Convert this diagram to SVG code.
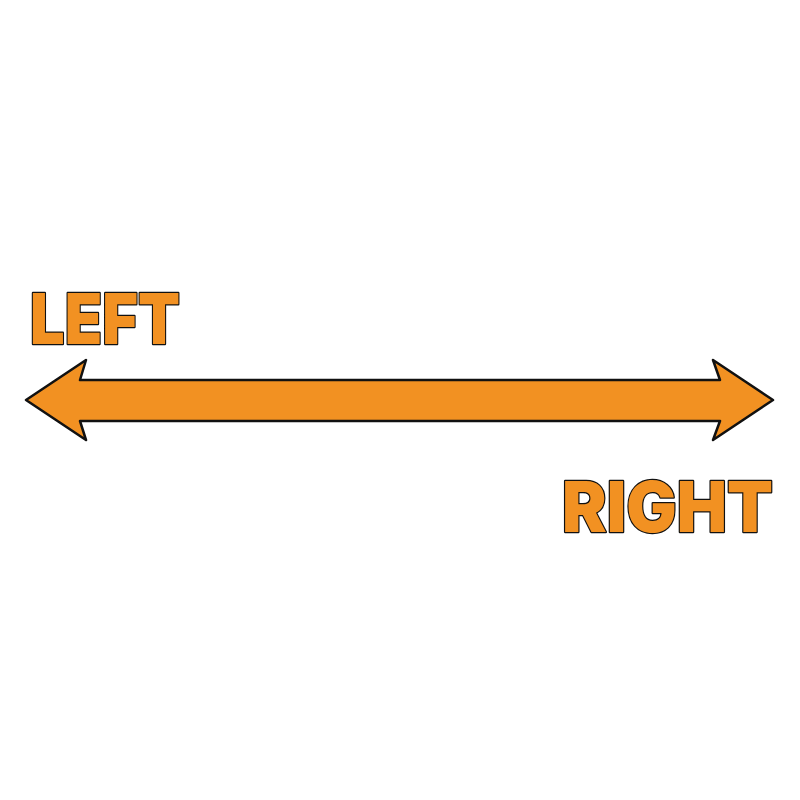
<svg xmlns="http://www.w3.org/2000/svg" width="800" height="800" viewBox="0 0 800 800">
<style>
.lbl{font-family:Inter,"Liberation Sans",sans-serif;font-weight:900;font-size:70px;fill:#F29122;stroke:#111;stroke-width:2.5;stroke-linejoin:round;paint-order:stroke}
</style>
<rect width="800" height="800" fill="#fff"/>
<g id="connectors">
<path id="arrow" d="M26,400 L86,360 L80,380 L720,380 L713,360 L773,400 L713,440 L720,421 L80,421 L86,440 Z" fill="#F29122" stroke="#111" stroke-width="2.5" stroke-linejoin="round"/>
</g>
<g id="left"><text class="lbl" x="30" y="344" textLength="150" lengthAdjust="spacingAndGlyphs">LEFT</text></g>
<g id="right"><text class="lbl" x="562" y="532" textLength="211" lengthAdjust="spacingAndGlyphs">RIGHT</text></g>
</svg>
